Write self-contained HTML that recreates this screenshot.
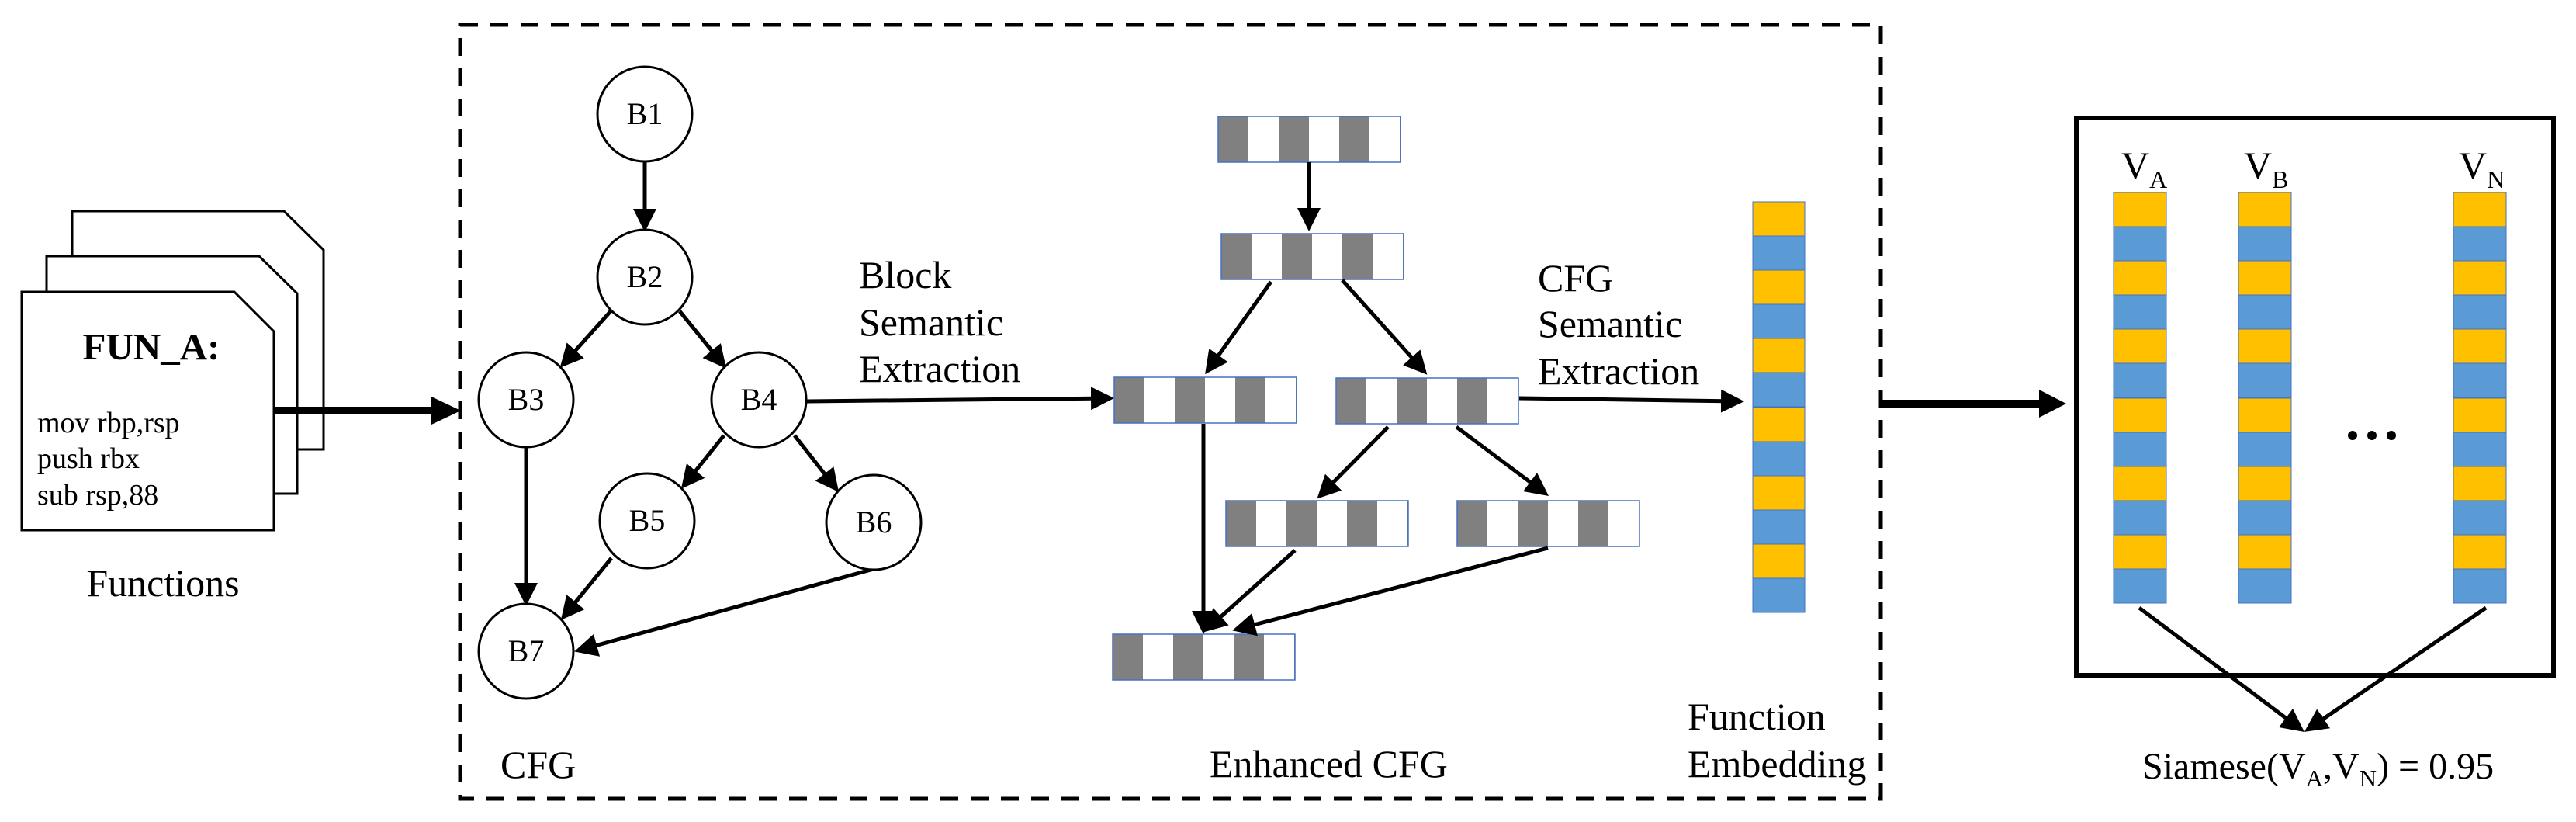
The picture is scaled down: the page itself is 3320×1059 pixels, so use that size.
<!DOCTYPE html>
<html><head><meta charset="utf-8"><style>
html,body{margin:0;padding:0;background:#fff;}
body{position:relative;width:3320px;height:1059px;overflow:hidden;}
svg{display:block;position:absolute;left:0;top:0;}
.t{position:absolute;font-family:"Liberation Serif","Times New Roman",serif;line-height:1;white-space:nowrap;color:#000;}
.f50{font-size:50px;}
.f40{font-size:40px;}
.c{text-align:center;}
.s{font-size:32px;position:relative;top:12px;}
</style></head><body>
<svg width="3320" height="1059" viewBox="0 0 3320 1059" xmlns="http://www.w3.org/2000/svg">
<defs>
<marker id="ah" markerWidth="6" markerHeight="6" refX="5" refY="3" orient="auto" markerUnits="strokeWidth">
<path d="M0,0 L6,3 L0,6 z" fill="#000"/>
</marker>
<pattern id="bar" x="0" y="0" width="78" height="10" patternUnits="userSpaceOnUse">
<rect x="0" y="0" width="39" height="10" fill="#808080"/>
<rect x="39" y="0" width="39" height="10" fill="#fff"/>
</pattern>
</defs>

<g fill="#fff" stroke="#000" stroke-width="3">
<path d="M93,579 L93,272 L366,272 L417,322 L417,579 Z"/>
<path d="M60,636 L60,330 L334,330 L383,378 L383,636 Z"/>
<path d="M28,683 L28,376 L302,376 L353,427 L353,683 Z"/>
</g>
<text x="195" y="463" font-size="49" font-weight="bold" text-anchor="middle" font-family="Liberation Serif, serif">FUN_A:</text>
<text x="48" y="557" font-size="38" font-family="Liberation Serif, serif">mov rbp,rsp</text>
<text x="48" y="603" font-size="38" font-family="Liberation Serif, serif">push rbx</text>
<text x="48" y="650" font-size="38" font-family="Liberation Serif, serif">sub rsp,88</text>

<rect x="353" y="524" width="206" height="10" fill="#000"/>
<polygon points="556,511 594,529 556,547" fill="#000"/>

<rect x="593" y="32" width="1831" height="997" fill="none" stroke="#000" stroke-width="5" stroke-dasharray="23,16"/>

<g stroke="#000" stroke-width="5" fill="none" marker-end="url(#ah)">
<line x1="831" y1="208" x2="831" y2="294"/>
<line x1="787" y1="401" x2="725" y2="470"/>
<line x1="876" y1="401" x2="933" y2="471"/>
<line x1="678" y1="576" x2="678" y2="776"/>
<line x1="933" y1="561" x2="881" y2="626"/>
<line x1="1024" y1="561" x2="1078" y2="630"/>
<line x1="788" y1="719" x2="726" y2="795"/>
<line x1="1126" y1="733" x2="745" y2="838"/>
<line x1="1040" y1="517" x2="1431" y2="513"/>
</g>
<g fill="#fff" stroke="#000" stroke-width="3">
<circle cx="831" cy="147" r="61"/>
<circle cx="831" cy="357" r="61"/>
<circle cx="678" cy="515" r="61"/>
<circle cx="978" cy="515" r="61"/>
<circle cx="834" cy="671" r="61"/>
<circle cx="1126" cy="673" r="61"/>
<circle cx="678" cy="839" r="61"/>
</g>

<g stroke="#4472c4" stroke-width="1.5">
<g transform="translate(1570,150)"><rect width="235" height="59" fill="url(#bar)"/></g>
<g transform="translate(1574,301)"><rect width="235" height="59" fill="url(#bar)"/></g>
<g transform="translate(1436,486)"><rect width="235" height="59" fill="url(#bar)"/></g>
<g transform="translate(1722,487)"><rect width="235" height="59" fill="url(#bar)"/></g>
<g transform="translate(1580,645)"><rect width="235" height="59" fill="url(#bar)"/></g>
<g transform="translate(1878,645)"><rect width="235" height="59" fill="url(#bar)"/></g>
<g transform="translate(1434,817)"><rect width="235" height="59" fill="url(#bar)"/></g>
</g>

<g stroke="#000" stroke-width="5" fill="none" marker-end="url(#ah)">
<line x1="1687" y1="209" x2="1687" y2="293"/>
<line x1="1638" y1="363" x2="1556" y2="478"/>
<line x1="1730" y1="361" x2="1836" y2="479"/>
<line x1="1551" y1="546" x2="1551" y2="812"/>
<line x1="1789" y1="550" x2="1701" y2="639"/>
<line x1="1877" y1="550" x2="1992" y2="636"/>
<line x1="1669" y1="709" x2="1555" y2="811"/>
<line x1="1995" y1="706" x2="1593" y2="811"/>
<line x1="1958" y1="513" x2="2243" y2="517"/>
</g>

<g stroke="#4472c4" stroke-width="1">
<rect x="2259" y="260" width="67" height="44" fill="#FFC000"/>
<rect x="2259" y="304" width="67" height="44" fill="#5B9BD5"/>
<rect x="2259" y="348" width="67" height="44" fill="#FFC000"/>
<rect x="2259" y="392" width="67" height="44" fill="#5B9BD5"/>
<rect x="2259" y="436" width="67" height="44" fill="#FFC000"/>
<rect x="2259" y="480" width="67" height="44" fill="#5B9BD5"/>
<rect x="2259" y="525" width="67" height="44" fill="#FFC000"/>
<rect x="2259" y="569" width="67" height="44" fill="#5B9BD5"/>
<rect x="2259" y="613" width="67" height="44" fill="#FFC000"/>
<rect x="2259" y="657" width="67" height="44" fill="#5B9BD5"/>
<rect x="2259" y="701" width="67" height="44" fill="#FFC000"/>
<rect x="2259" y="745" width="67" height="44" fill="#5B9BD5"/>
</g>

<rect x="2424" y="515" width="207" height="10" fill="#000"/>
<polygon points="2628,502 2663,520 2628,538" fill="#000"/>

<rect x="2676" y="152" width="615" height="718" fill="none" stroke="#000" stroke-width="6"/>

<g stroke="#4472c4" stroke-width="1">
<g id="colA">
<rect x="2724" y="248" width="68" height="44" fill="#FFC000"/>
<rect x="2724" y="292" width="68" height="44" fill="#5B9BD5"/>
<rect x="2724" y="336" width="68" height="44" fill="#FFC000"/>
<rect x="2724" y="380" width="68" height="44" fill="#5B9BD5"/>
<rect x="2724" y="424" width="68" height="44" fill="#FFC000"/>
<rect x="2724" y="468" width="68" height="44" fill="#5B9BD5"/>
<rect x="2724" y="513" width="68" height="44" fill="#FFC000"/>
<rect x="2724" y="557" width="68" height="44" fill="#5B9BD5"/>
<rect x="2724" y="601" width="68" height="44" fill="#FFC000"/>
<rect x="2724" y="645" width="68" height="44" fill="#5B9BD5"/>
<rect x="2724" y="689" width="68" height="44" fill="#FFC000"/>
<rect x="2724" y="733" width="68" height="44" fill="#5B9BD5"/>
</g>
<use href="#colA" transform="translate(161,0)"/>
<use href="#colA" transform="translate(438,0)"/>
</g>

<circle cx="3032" cy="561" r="6" fill="#000"/>
<circle cx="3057" cy="561" r="6" fill="#000"/>
<circle cx="3082" cy="561" r="6" fill="#000"/>

<g stroke="#000" stroke-width="5" fill="none" marker-end="url(#ah)">
<line x1="2757" y1="783" x2="2966" y2="940"/>
<line x1="3204" y1="783" x2="2974" y2="940"/>
</g>
</svg>

<div class="t f50 c" style="left:10px;top:726px;width:400px;">Functions</div>

<div class="t f40 c" style="left:771px;top:127px;width:120px;">B1</div>
<div class="t f40 c" style="left:771px;top:337px;width:120px;">B2</div>
<div class="t f40 c" style="left:618px;top:495px;width:120px;">B3</div>
<div class="t f40 c" style="left:918px;top:495px;width:120px;">B4</div>
<div class="t f40 c" style="left:774px;top:651px;width:120px;">B5</div>
<div class="t f40 c" style="left:1066px;top:653px;width:120px;">B6</div>
<div class="t f40 c" style="left:618px;top:819px;width:120px;">B7</div>

<div class="t f50" style="left:645px;top:960px;">CFG</div>
<div class="t f50" style="left:1107px;top:329px;">Block</div>
<div class="t f50" style="left:1107px;top:390px;">Semantic</div>
<div class="t f50" style="left:1107px;top:450px;">Extraction</div>
<div class="t f50" style="left:1982px;top:333px;">CFG</div>
<div class="t f50" style="left:1982px;top:392px;">Semantic</div>
<div class="t f50" style="left:1982px;top:453px;">Extraction</div>
<div class="t f50" style="left:1559px;top:959px;">Enhanced CFG</div>
<div class="t f50" style="left:2175px;top:898px;">Function</div>
<div class="t f50" style="left:2175px;top:959px;">Embedding</div>

<div class="t f50" style="left:2734px;top:188px;">V<span class="s">A</span></div>
<div class="t f50" style="left:2892px;top:188px;">V<span class="s">B</span></div>
<div class="t f50" style="left:3169px;top:188px;">V<span class="s">N</span></div>

<div class="t" style="left:2761px;top:964px;font-size:48px;">Siamese(V<span style="font-size:31px;position:relative;top:10px;">A</span>,V<span style="font-size:31px;position:relative;top:10px;">N</span>) = 0.95</div>
</body></html>
